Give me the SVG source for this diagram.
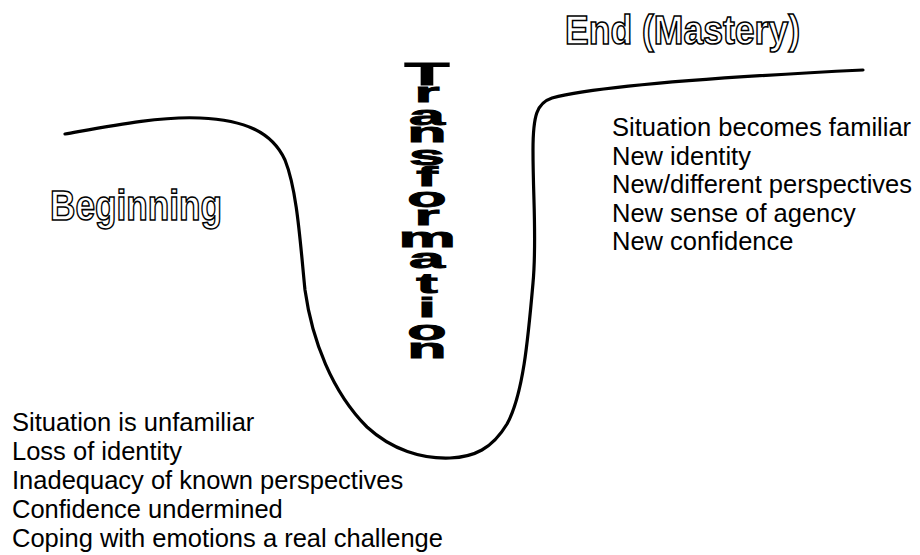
<svg xmlns="http://www.w3.org/2000/svg" width="920" height="555" viewBox="0 0 920 555">
<style>
.body{font-family:"Liberation Sans",Arial,sans-serif;font-size:25.5px;fill:#000}
.outline{font-family:"Liberation Sans",Arial,sans-serif;font-weight:bold;fill:#fff;stroke:#000;stroke-width:1.6px}
.tf{font-family:"Liberation Sans",Arial,sans-serif;font-weight:bold;font-size:28px;fill:#000;stroke:#000;stroke-width:0.9px;text-anchor:middle}
.curve{fill:none;stroke:#000;stroke-width:3.2;stroke-linecap:round}
</style>
<rect width="920" height="555" fill="#fff"/>
<g id="connectors">
<path class="curve" d="M65,134 C110,126 160,116 200,118 C245,120 272,132 285,160 C297,190 300,240 305,290 C312,340 332,392 367,427 C392,450 422,459 450,458 C474,457 492,449 507,424 C523,395 528,340 533,283 C537,240 533,200 533,150 C533,115 537,103 552,98 C590,88 700,78 863,70"/>
</g>
<g id="end-mastery">
<text class="outline" x="565" y="44" font-size="40" textLength="235" lengthAdjust="spacingAndGlyphs">End (Mastery)</text>
</g>
<g id="beginning">
<text class="outline" x="50" y="220" font-size="43" textLength="172" lengthAdjust="spacingAndGlyphs">Beginning</text>
</g>
<g id="transformation" transform="translate(427 0) scale(2.3 1)">
<text class="tf"><tspan x="0" y="85" font-size="32">T</tspan><tspan x="0" y="102">r</tspan><tspan x="0" y="125">a</tspan><tspan x="0" y="142">n</tspan><tspan x="0" y="165">s</tspan><tspan x="0" y="186">f</tspan><tspan x="0" y="207">o</tspan><tspan x="0" y="225">r</tspan><tspan x="0" y="247">m</tspan><tspan x="0" y="268">a</tspan><tspan x="0" y="293">t</tspan><tspan x="0" y="317">i</tspan><tspan x="0" y="340">o</tspan><tspan x="0" y="358">n</tspan></text>
</g>
<g id="beginning-list">
<text class="body" x="12" y="431">Situation is unfamiliar</text>
<text class="body" x="12" y="460">Loss of identity</text>
<text class="body" x="12" y="489">Inadequacy of known perspectives</text>
<text class="body" x="12" y="518">Confidence undermined</text>
<text class="body" x="12" y="547">Coping with emotions a real challenge</text>
</g>
<g id="end-list">
<text class="body" x="612" y="136">Situation becomes familiar</text>
<text class="body" x="612" y="164.5">New identity</text>
<text class="body" x="612" y="193">New/different perspectives</text>
<text class="body" x="612" y="221.5">New sense of agency</text>
<text class="body" x="612" y="250">New confidence</text>
</g>
</svg>
